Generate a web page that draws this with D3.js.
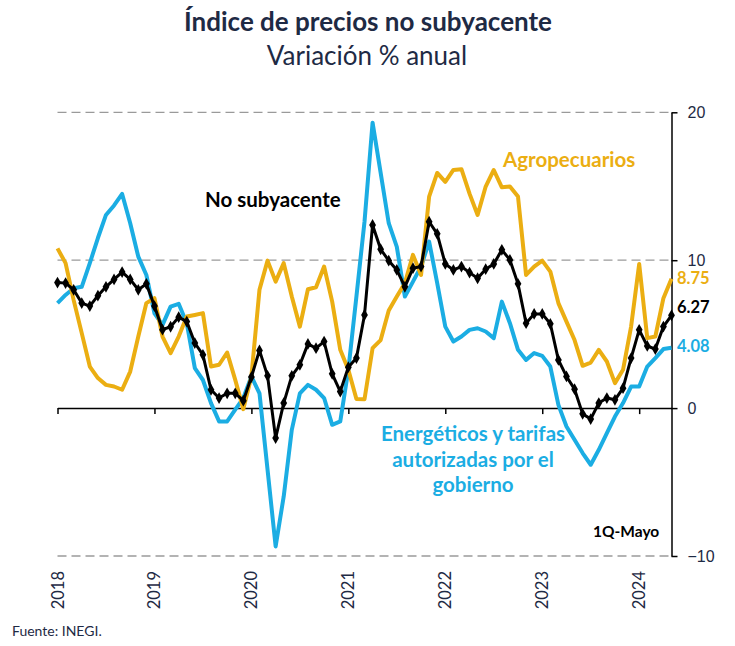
<!DOCTYPE html>
<html><head><meta charset="utf-8">
<script src="https://cdn.jsdelivr.net/npm/d3@7"></script>
<style>
html,body{margin:0;padding:0;background:#fff;}
svg{display:block;}
</style></head>
<body>
<svg id="c" width="735" height="646"></svg>
<script>
// Monthly data, Jan 2018 .. May 2024 (last = 1Q-Mayo)
const startYear = 2018;
const yearLabels = ["2018","2019","2020","2021","2022","2023","2024"];
const yTicks = [-10, 0, 10, 20];

const noSubyacente = [
  8.49, 8.45, 8.0, 7.1, 6.9, 7.6, 8.2, 8.7, 9.2, 8.7, 8.0, 8.4,
  6.9, 5.3, 5.5, 6.15, 5.85, 4.4, 3.6, 1.24, 0.68, 1.0, 1.0, 0.5,
  2.1, 3.9, 2.18, -2.03, 0.34, 2.18, 2.93, 4.34, 4.05, 4.5, 2.32, 1.12,
  2.77, 3.38, 6.3, 12.38, 10.74, 9.97, 9.34, 8.2, 9.46, 9.57, 12.6, 11.78,
  9.75, 9.34, 9.57, 9.16, 8.78, 9.39, 9.75, 10.7, 10.02, 8.4, 5.74, 6.37,
  6.37, 5.7, 3.26, 2.14, 1.28, -0.39, -0.74, 0.34, 0.68, 0.56, 1.35, 3.38,
  5.29, 4.2, 3.99, 5.51, 6.27
];
const energeticos = [
  7.1, 7.65, 8.1, 8.2, 9.8, 11.5, 13.06, 13.7, 14.48, 12.5, 10.24, 9.0,
  6.4, 5.63, 6.86, 7.05, 5.74, 2.7, 1.9, 0.34, -0.9, -0.9, -0.1, 0.68,
  2.14, 1.0, -4.17, -9.35, -5.97, -1.47, 1.0, 1.57, 1.24, 0.68, -1.13, -0.9,
  2.59, 7.54, 12.6, 19.3, 15.9, 12.5, 10.9, 7.54, 8.55, 9.57, 11.26, 8.45,
  5.51, 4.5, 4.84, 5.29, 5.4, 5.18, 4.73, 7.2, 5.74, 3.94, 3.26, 3.72,
  3.53, 2.81, 0.22, -1.24, -2.14, -3.04, -3.83, -2.82, -1.69, -0.57, 0.34, 1.46,
  1.46, 2.81, 3.38, 3.99, 4.08
];
const agropecuarios = [
  10.8, 9.8, 7.3, 5.07, 2.81, 2.03, 1.57, 1.46, 1.24, 2.47, 4.84, 7.1,
  7.43, 4.84, 3.72, 4.84, 6.19, 6.3, 6.42, 2.81, 2.93, 3.76, 1.91, -0.07,
  2.14, 8.0, 9.97, 8.55, 9.8, 7.54, 5.51, 8.04, 8.17, 9.57, 7.2, 3.94,
  2.59, 0.62, 0.6, 4.05, 4.6, 6.6, 7.54, 8.45, 10.36, 9.0, 14.3, 15.9,
  15.3, 16.1, 16.15, 14.5, 13.06, 14.98, 16.1, 14.93, 14.98, 14.3, 9.0, 9.57,
  9.97, 9.23, 7.1, 5.85, 4.6, 2.86, 3.08, 3.94, 3.15, 1.69, 2.59, 5.51,
  9.75, 4.73, 4.84, 7.43, 8.75
];

const colors = {agro:"#EBAE12", ener:"#1BADE3", noSub:"#000000", navy:"#1E2A44", grid:"#9a9a9a"};
const FONT = "Lato, 'Open Sans', sans-serif";

const svg = d3.select("#c");
const n = noSubyacente.length;
const x = d3.scaleLinear().domain([0, n - 1]).range([57.5, 671.5]);
const y = d3.scaleLinear().domain([-10, 20]).range([556, 112.3]);

// Titles
svg.append("text").attr("x", 368).attr("y", 31).attr("text-anchor","middle")
  .attr("font-family", FONT).attr("font-weight","bold")
  .attr("font-size", 26).attr("fill", colors.navy).text("Índice de precios no subyacente");
svg.append("text").attr("x", 367).attr("y", 65).attr("text-anchor","middle")
  .attr("font-family", FONT)
  .attr("font-size", 26).attr("fill", colors.navy).text("Variación % anual");

// Gridlines (dashed) except 0
svg.append("g").selectAll("line").data(yTicks.filter(d => d !== 0)).join("line")
  .attr("x1", x(0)).attr("x2", x(n - 1))
  .attr("y1", d => y(d)).attr("y2", d => y(d))
  .attr("stroke", colors.grid).attr("stroke-width", 1.3).attr("stroke-dasharray", "9,5");

// Zero axis with year ticks
const yearIdx = yearLabels.map((_, i) => i * 12);
const xAxis = d3.axisBottom(x).tickValues(yearIdx).tickFormat("").tickSize(6).tickSizeOuter(0);
const gx = svg.append("g").attr("transform", `translate(0,${y(0)})`).call(xAxis);
gx.select(".domain").attr("stroke", "#000").attr("stroke-width", 1.5);
gx.selectAll(".tick line").attr("stroke", "#000").attr("stroke-width", 1.5);

// Year labels (rotated) at the bottom
svg.append("g").selectAll("text").data(yearLabels).join("text")
  .attr("transform", (d, i) => `translate(${x(i * 12) + 6},571) rotate(-90)`)
  .attr("text-anchor", "end")
  .attr("font-family", FONT).attr("font-size", 16.5)
  .attr("fill", colors.navy).text(d => d);

// Right axis
const yAxis = d3.axisRight(y).tickValues(yTicks).tickSize(6).tickSizeOuter(0).tickFormat(d3.format("d"));
const gy = svg.append("g").attr("transform", `translate(${x(n - 1)},0)`).call(yAxis);
gy.select(".domain").attr("stroke", "#000").attr("stroke-width", 1.5);
gy.selectAll(".tick line").attr("stroke", "#000").attr("stroke-width", 1.5);
gy.selectAll(".tick text").attr("x", 16).attr("font-family", "'Liberation Sans', Arial, sans-serif")
  .attr("font-size", 16).attr("fill", colors.navy);

// Lines
const line = d3.line().x((d, i) => x(i)).y(d => y(d));
svg.append("path").datum(energeticos).attr("d", line).attr("fill", "none")
  .attr("stroke", colors.ener).attr("stroke-width", 4).attr("stroke-linejoin", "round");
svg.append("path").datum(agropecuarios).attr("d", line).attr("fill", "none")
  .attr("stroke", colors.agro).attr("stroke-width", 4).attr("stroke-linejoin", "round");
svg.append("path").datum(noSubyacente).attr("d", line).attr("fill", "none")
  .attr("stroke", colors.noSub).attr("stroke-width", 3).attr("stroke-linejoin", "round");
svg.append("g").selectAll("path").data(noSubyacente).join("path")
  .attr("d", d3.symbol(d3.symbolDiamond, 40)())
  .attr("transform", (d, i) => `translate(${x(i)},${y(d)})`)
  .attr("fill", "#000");

// Series labels
const lab = (t, xx, yy, col, size, anchor) => svg.append("text").attr("x", xx).attr("y", yy)
  .attr("text-anchor", anchor || "start").attr("font-family", FONT)
  .attr("font-weight", "bold").attr("font-size", size).attr("fill", col).text(t);
lab("Agropecuarios", 503, 167, colors.agro, 20.5);
lab("No subyacente", 205, 207, "#000", 20.5);
lab("Energéticos y tarifas", 473, 441, colors.ener, 20.5, "middle");
lab("autorizadas por el", 473, 467, colors.ener, 20.5, "middle");
lab("gobierno", 473, 492, colors.ener, 20.5, "middle");
lab("1Q-Mayo", 593, 537, "#000", 15.5);

// End values
lab(d3.format(".2f")(agropecuarios[n - 1]), 677, 284, colors.agro, 16.5);
lab(d3.format(".2f")(noSubyacente[n - 1]), 677, 313, "#000", 16.5);
lab(d3.format(".2f")(energeticos[n - 1]), 677, 352, colors.ener, 16.5);

// Source
svg.append("text").attr("x", 12).attr("y", 636).attr("font-family", FONT)
  .attr("font-size", 14).attr("fill", colors.navy).text("Fuente: INEGI.");
</script>
</body></html>
